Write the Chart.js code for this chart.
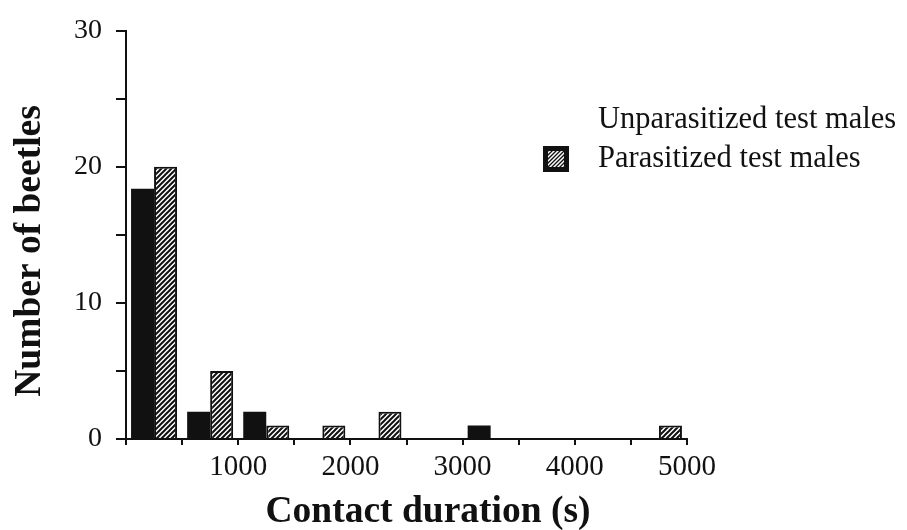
<!DOCTYPE html>
<html>
<head>
<meta charset="utf-8">
<script src="https://cdn.jsdelivr.net/npm/chart.js@4.4.0/dist/chart.umd.min.js"></script>
<style>
  html, body { margin: 0; padding: 0; background: #fff; }
  #wrap { width: 907px; height: 530px; position: relative; }
</style>
</head>
<body>
<div id="wrap"><canvas id="chart"></canvas></div>
<script>
// contact duration bins (s), 500 s wide, given by their centres
const binCenters = [250, 750, 1250, 1750, 2250, 2750, 3250, 3750, 4250, 4750];
const unparasitized = [18.4, 2, 2, 0, 0, 0, 1, 0, 0, 0];
const parasitized = [20, 5, 1, 1, 2, 0, 0, 0, 0, 1];
const seriesLabels = ['Unparasitized test males', 'Parasitized test males'];
const xTitle = 'Contact duration (s)';
const yTitle = 'Number of beetles';

const serif = '"Liberation Serif", "Times New Roman", Times, serif';

function toPoints(values) {
    // empty bins get no bar at all
    return binCenters.map((x, i) => ({ x: x, y: values[i] === 0 ? null : values[i] }));
}

function hatchPattern() {
    const c = document.createElement('canvas');
    c.width = 5;
    c.height = 5;
    const g = c.getContext('2d');
    g.fillStyle = '#fff';
    g.fillRect(0, 0, 5, 5);
    g.strokeStyle = '#111';
    g.lineWidth = 2;
    g.beginPath();
    g.moveTo(-1, 6); g.lineTo(6, -1);
    g.moveTo(-1, 1); g.lineTo(1, -1);
    g.moveTo(4, 6); g.lineTo(6, 4);
    g.stroke();
    return g.createPattern(c, 'repeat');
}
const hatch = hatchPattern();

// axis titles and legend sit where the original put them, so draw them by hand
const decorations = {
    id: 'decorations',
    afterDraw(chart) {
        const ctx = chart.ctx;
        ctx.save();
        ctx.fillStyle = '#111';

        ctx.font = 'bold 37.5px ' + serif;
        ctx.textAlign = 'center';
        ctx.textBaseline = 'alphabetic';
        ctx.fillText(xTitle, 428, 522);

        ctx.save();
        ctx.translate(40, 251);
        ctx.rotate(-Math.PI / 2);
        ctx.fillText(yTitle, 0, 0);
        ctx.restore();

        ctx.font = '30.5px ' + serif;
        ctx.textAlign = 'left';
        ctx.fillText(seriesLabels[0], 598, 128);
        ctx.fillText(seriesLabels[1], 598, 167);

        // legend key: black square with white stripes
        const bx = 543, by = 146, bs = 26;
        ctx.fillStyle = '#111';
        ctx.fillRect(bx, by, bs, bs);
        ctx.save();
        ctx.beginPath();
        ctx.rect(bx + 5, by + 5, bs - 10, bs - 10);
        ctx.clip();
        ctx.strokeStyle = '#fff';
        ctx.lineWidth = 1.5;
        ctx.beginPath();
        for (let d = -bs; d < bs; d += 4) {
            ctx.moveTo(bx + d, by + bs);
            ctx.lineTo(bx + d + bs, by);
        }
        ctx.stroke();
        ctx.restore();
        ctx.restore();
    }
};

new Chart(document.getElementById('chart'), {
    type: 'bar',
    data: {
        datasets: [{
            label: seriesLabels[0],
            data: toPoints(unparasitized),
            backgroundColor: '#111',
            borderColor: '#111',
            borderWidth: 0
        }, {
            label: seriesLabels[1],
            data: toPoints(parasitized),
            backgroundColor: hatch,
            borderColor: '#111',
            borderWidth: 2
        }]
    },
    options: {
        responsive: true,
        maintainAspectRatio: false,
        animation: false,
        categoryPercentage: 0.82,
        barPercentage: 1,
        layout: { padding: { left: 0, right: 220, top: 28, bottom: 0 } },
        plugins: {
            legend: { display: false },
            tooltip: { enabled: false }
        },
        scales: {
            x: {
                type: 'linear',
                min: 0,
                max: 5000,
                offset: false,
                afterFit(scale) { scale.height = 91; },
                border: { display: true, color: '#111', width: 2 },
                grid: {
                    offset: false,
                    drawOnChartArea: false,
                    drawTicks: true,
                    tickLength: 6,
                    color: '#111',
                    lineWidth: 2
                },
                ticks: {
                    stepSize: 500,
                    autoSkip: false,
                    maxRotation: 0,
                    padding: 5,
                    color: '#111',
                    font: { family: serif, size: 29 },
                    callback: v => (v > 0 && v % 1000 === 0) ? v : ''
                }
            },
            y: {
                min: 0,
                max: 30,
                afterFit(scale) { scale.width = 126; },
                border: { display: true, color: '#111', width: 2 },
                grid: {
                    drawOnChartArea: false,
                    drawTicks: true,
                    tickLength: 10,
                    color: '#111',
                    lineWidth: 2
                },
                ticks: {
                    stepSize: 5,
                    autoSkip: false,
                    padding: 14,
                    color: '#111',
                    font: { family: serif, size: 28 },
                    callback: v => v % 10 === 0 ? v : ''
                }
            }
        }
    },
    plugins: [decorations]
});
</script>
</body>
</html>
